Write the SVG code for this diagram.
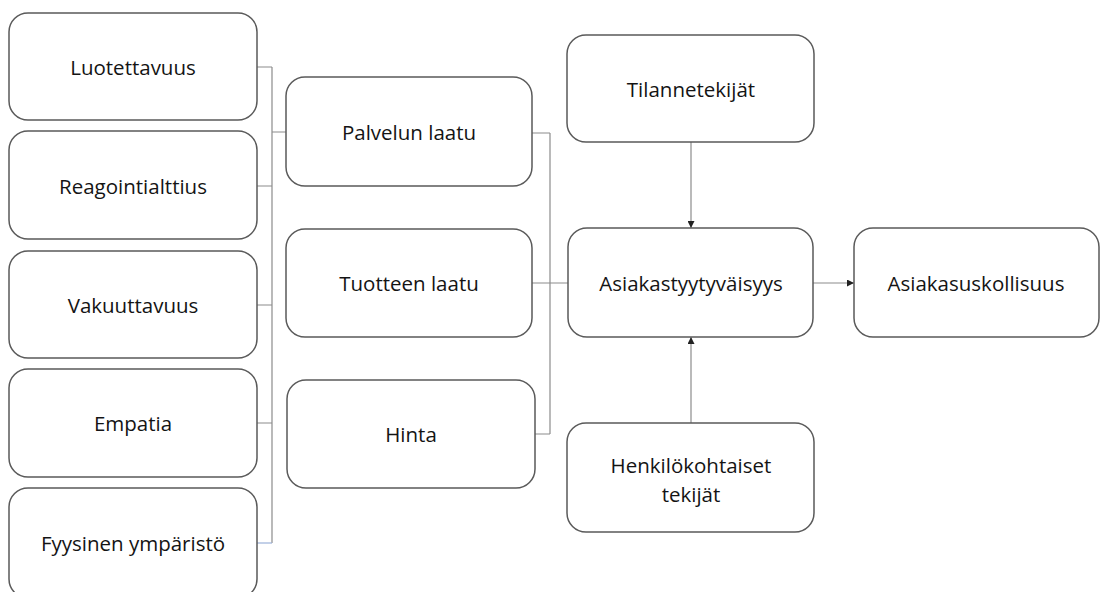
<svg xmlns="http://www.w3.org/2000/svg" width="1101" height="592" viewBox="0 0 1101 592">
<style>
  .box { fill: #ffffff; stroke: #5a5a5a; stroke-width: 1.5; }
  .lbl { font-family: "Open Sans", "Noto Sans", sans-serif; font-size: 20.5px; fill: #141414; text-anchor: middle; dominant-baseline: central; }
  .con { fill: none; stroke: #8c8c8c; stroke-width: 1.2; }
  .con-blue { fill: none; stroke: #9bb0d8; stroke-width: 1.2; }
</style>
<defs>
  <marker id="arrow" viewBox="0 0 10 10" refX="10" refY="5" markerWidth="7" markerHeight="7" orient="auto" markerUnits="userSpaceOnUse">
    <path d="M0,0 L10,5 L0,10 z" fill="#222"/>
  </marker>
</defs>
<rect width="1101" height="592" fill="#ffffff"/>

<g id="connectors">
  <path class="con" d="M256,67 H272 M256,186 H272 M256,305 H272 M256,423 H272 M272,67 V543 M272,132 H286"/>
  <path class="con-blue" d="M256,543 H272"/>
  <path class="con" d="M532,133 H550 M534,434 H550 M550,133 V434 M532,283 H568"/>
  <path class="con" d="M691,142 V228" marker-end="url(#arrow)"/>
  <path class="con" d="M691,423 V337" marker-end="url(#arrow)"/>
  <path class="con" d="M813,283 H854" marker-end="url(#arrow)"/>
</g>

<g id="node-luotettavuus">
  <rect class="box" x="9" y="13" width="248" height="107" rx="19"/>
  <text class="lbl" x="133" y="67">Luotettavuus</text>
</g>
<g id="node-reagointialttius">
  <rect class="box" x="9" y="131" width="248" height="108" rx="19"/>
  <text class="lbl" x="133" y="186">Reagointialttius</text>
</g>
<g id="node-vakuuttavuus">
  <rect class="box" x="9" y="251" width="248" height="107" rx="19"/>
  <text class="lbl" x="133" y="305">Vakuuttavuus</text>
</g>
<g id="node-empatia">
  <rect class="box" x="9" y="369" width="248" height="108" rx="19"/>
  <text class="lbl" x="133" y="423">Empatia</text>
</g>
<g id="node-fyysinen">
  <rect class="box" x="9" y="488" width="248" height="110" rx="19"/>
  <text class="lbl" x="133" y="543">Fyysinen ympäristö</text>
</g>

<g id="node-palvelun">
  <rect class="box" x="286" y="77" width="246" height="109" rx="19"/>
  <text class="lbl" x="409" y="132">Palvelun laatu</text>
</g>
<g id="node-tuotteen">
  <rect class="box" x="286" y="229" width="246" height="108" rx="19"/>
  <text class="lbl" x="409" y="283">Tuotteen laatu</text>
</g>
<g id="node-hinta">
  <rect class="box" x="287" y="380" width="248" height="108" rx="19"/>
  <text class="lbl" x="411" y="434">Hinta</text>
</g>

<g id="node-tilannetekijat">
  <rect class="box" x="567" y="35" width="247" height="107" rx="19"/>
  <text class="lbl" x="691" y="89">Tilannetekijät</text>
</g>
<g id="node-asiakastyytyvaisyys">
  <rect class="box" x="568" y="228" width="245" height="109" rx="19"/>
  <text class="lbl" x="691" y="283">Asiakastyytyväisyys</text>
</g>
<g id="node-henkilokohtaiset">
  <rect class="box" x="567" y="423" width="247" height="109" rx="19"/>
  <text class="lbl" x="691" y="465">Henkilökohtaiset</text>
  <text class="lbl" x="691" y="494">tekijät</text>
</g>
<g id="node-asiakasuskollisuus">
  <rect class="box" x="854" y="228" width="245" height="109" rx="19"/>
  <text class="lbl" x="976" y="283">Asiakasuskollisuus</text>
</g>
</svg>
